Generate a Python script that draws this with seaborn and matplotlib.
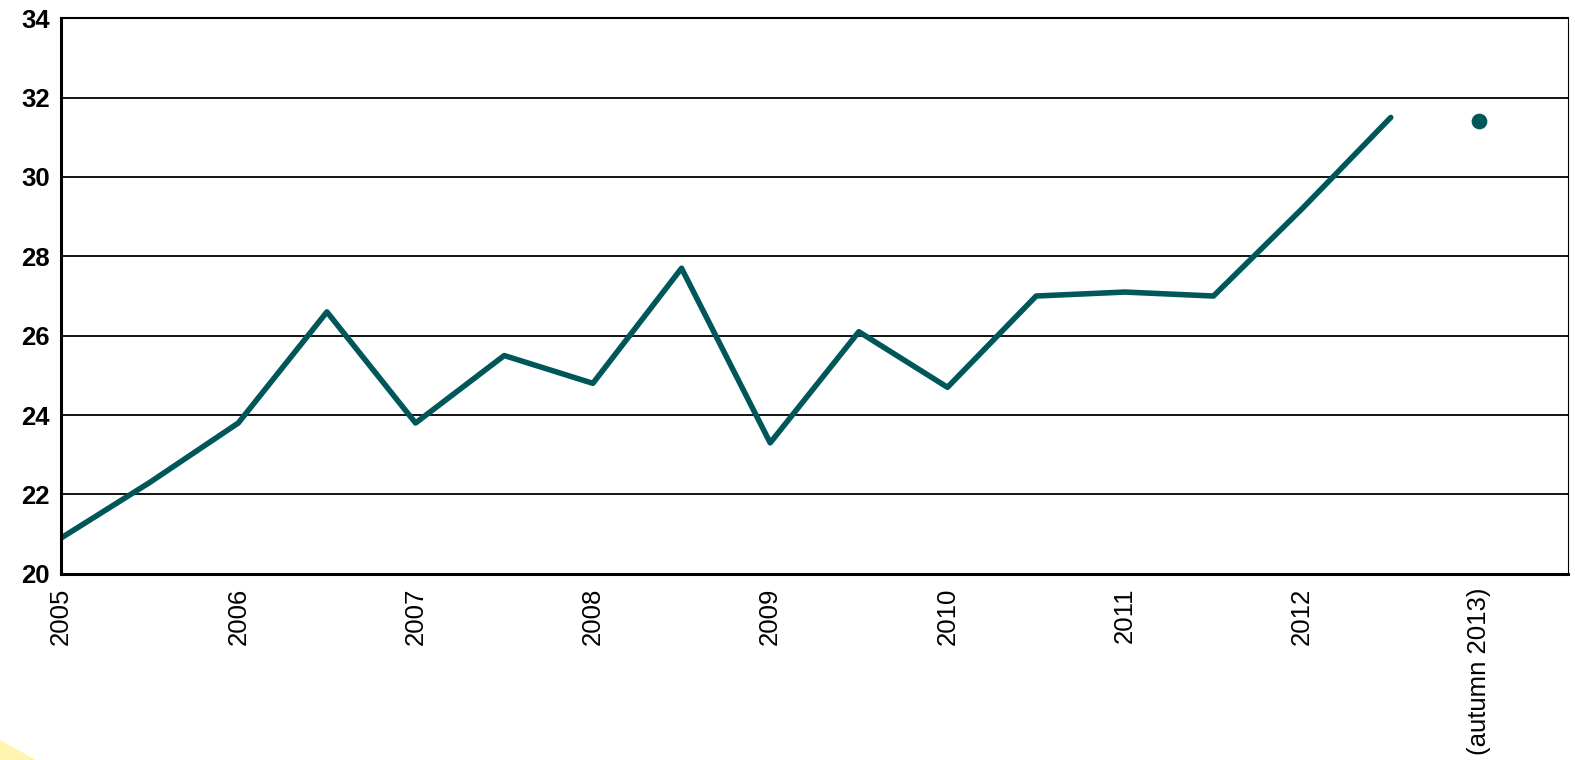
import numpy as np
import pandas as pd
import seaborn as sns
import matplotlib.pyplot as plt
from matplotlib.patches import Polygon

# half-year readings, 2005 .. 2012.5
periods = [2005.0, 2005.5, 2006.0, 2006.5, 2007.0, 2007.5, 2008.0, 2008.5,
           2009.0, 2009.5, 2010.0, 2010.5, 2011.0, 2011.5, 2012.0, 2012.5]
values = [20.9, 22.3, 23.8, 26.6, 23.8, 25.5, 24.8, 27.7,
          23.3, 26.1, 24.7, 27.0, 27.1, 27.0, 29.2, 31.5]

# separate autumn 2013 point
extra_period = [2013.0]
extra_value = [31.4]

tick_pos = [2005, 2006, 2007, 2008, 2009, 2010, 2011, 2012, 2013]
tick_labels = ['2005', '2006', '2007', '2008', '2009', '2010', '2011', '2012',
               '(autumn 2013)']

sns.set_style('white')
plt.rcParams['font.family'] = ['Liberation Sans', 'DejaVu Sans']

teal = '#00575a'

fig = plt.figure(figsize=(15.75, 7.6), dpi=100)
ax = fig.add_axes([0.0387, 0.245, 0.9569, 0.731])

df = pd.DataFrame({'period': periods, 'value': values})
sns.lineplot(data=df, x='period', y='value', color=teal, linewidth=4.0,
             ax=ax, solid_capstyle='round')
sns.scatterplot(x=extra_period, y=extra_value, color=teal, s=110,
                edgecolor=teal, ax=ax, zorder=5)

ax.set_xlim(2005, 2013.5)
ax.set_ylim(20, 34)
ax.set_yticks(np.arange(20, 35, 2))
ax.set_xticks(tick_pos)
ax.set_xticklabels(tick_labels, rotation=90, fontsize=18.5)
ax.tick_params(axis='y', labelsize=18.5, length=0, pad=8, labelcolor='black')
ax.tick_params(axis='x', length=0, pad=10, labelcolor='black')
for lbl in ax.get_yticklabels():
    lbl.set_fontweight('bold')

ax.set_xlabel('')
ax.set_ylabel('')
ax.grid(axis='y', color='black', linewidth=1.3)
ax.grid(axis='x', visible=False)
ax.set_axisbelow(True)

ax.spines['left'].set_linewidth(2.2)
ax.spines['bottom'].set_linewidth(2.2)
ax.spines['top'].set_linewidth(1.5)
ax.spines['right'].set_linewidth(0.8)
for s in ax.spines.values():
    s.set_color('black')

# faint yellow corner decoration
fig.patches.append(Polygon([[0, 0], [0, 0.025], [0.022, 0]], closed=True,
                           transform=fig.transFigure, color='#fff3a0',
                           alpha=0.8))

fig.savefig('out.png', dpi=100)
